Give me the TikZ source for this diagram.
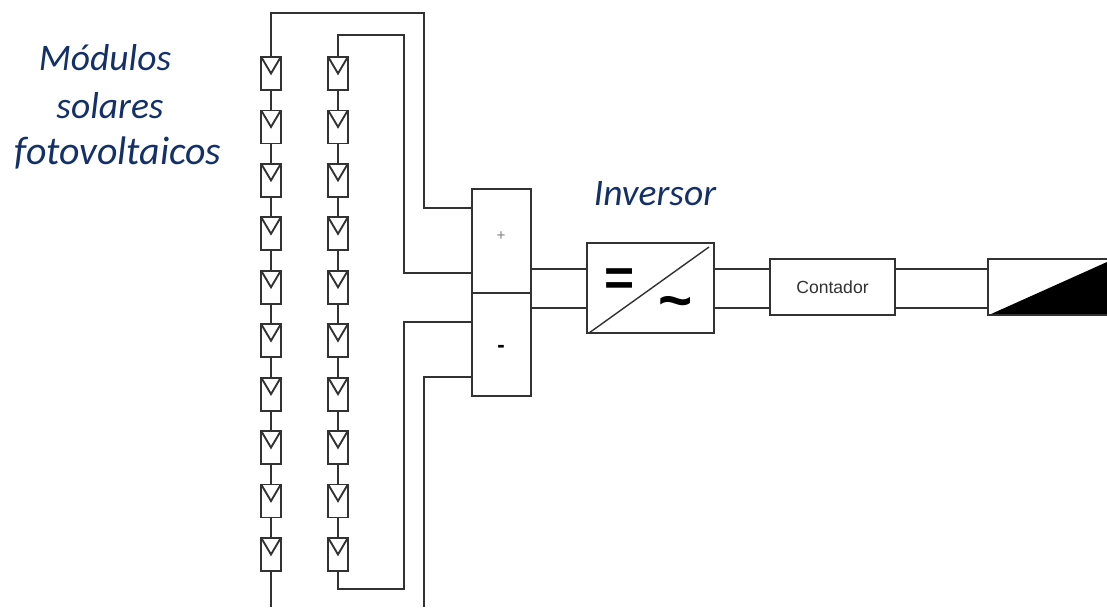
\documentclass[tikz,border=0pt]{standalone}
\usepackage{fontspec}
\setmainfont{Carlito}
\newfontfamily\arialfont{Liberation Sans}
\usepackage{xcolor}
\usetikzlibrary{positioning}
\definecolor{titleblue}{RGB}{20,48,104}
\definecolor{wiregray}{RGB}{50,50,50}
\tikzset{
	wire/.style={wiregray, line width=1.6pt},
	module/.style={draw=wiregray, fill=white, line width=1.6pt, minimum width=0.585cm, minimum height=0.99cm, inner sep=0pt, outer sep=0pt},
	box/.style={draw=wiregray, fill=white, line width=1.5pt, inner sep=0pt, outer sep=0pt},
	title/.style={titleblue, font=\fontsize{32}{36}\selectfont\itshape, inner sep=0pt, anchor=base}
}

\begin{document}
\begin{tikzpicture}[x=0.03cm, y=-0.03cm]
	\useasboundingbox (0, 0) rectangle (1107, 607);
	% strings of modules
	\foreach \i in {1,...,10} {
		\node[module] (a\i) at (271, {73.5+(\i-1)*53.44}) {};
		\node[module] (b\i) at (338, {73.5+(\i-1)*53.44}) {};
		\draw[wire] (a\i.north west) -- (a\i.center) -- (a\i.north east);
		\draw[wire] (b\i.north west) -- (b\i.center) -- (b\i.north east);
	}
	\foreach \i [evaluate=\i as \j using int(\i+1)] in {1,...,9} {
		\draw[wire] (a\i.south) -- (a\j.north);
		\draw[wire] (b\i.south) -- (b\j.north);
	}
	% junction box and the rest of the chain
	\node[box, minimum width=1.77cm, minimum height=3.12cm] (plus) at (501.5, 241) {};
	\node[box, minimum width=1.77cm, minimum height=3.09cm] (minus) at (501.5, 344.5) {};
	\node[box, minimum width=3.81cm, minimum height=2.7cm] (inverter) at (650.5, 288) {};
	\node[box, minimum width=3.75cm, minimum height=1.68cm, font=\arialfont\fontsize{15}{17}\selectfont, text=wiregray] (counter) at (832.5, 287) {Contador};
	\node[inner sep=0pt, font=\arialfont\fontsize{13}{13}\selectfont, text=gray] (plussign) at (501, 236) {+};
	\node[inner sep=0pt, font=\arialfont\bfseries\fontsize{19}{19}\selectfont] (minussign) at (501, 349) {-};
	\node[inner sep=0pt, font=\arialfont\bfseries\fontsize{44}{44}\selectfont] (equalsign) at (620, 282) {=};
	\node[inner sep=0pt, font=\arialfont\bfseries\fontsize{50}{50}\selectfont] (tildesign) at (676, 308) {\char"7E};
	\draw[wire, line width=1.2pt] (inverter.south west) ++(2, 0) -- ([shift={(-5, 4)}]inverter.north east);
	% grid end, cut by the edge of the picture
	\coordinate (gridtop) at (1107, 259);
	\coordinate (gridbottom) at (1107, 315);
	\coordinate (gridtopleft) at (988, 259);
	\coordinate (gridbottomleft) at (988, 315);
	\fill[black] (990, 314.5) -- (1107, 262) -- (gridbottom) -- cycle;
	\draw[wire] (gridtop) -- (gridtopleft) -- (gridbottomleft) -- (gridbottom);
	% wiring
	\coordinate (aend) at (271, 607);
	\coordinate (bend) at (424, 607);
	\draw[wire] (a1.north) |- (424, 13) |- (plus.west |- 0, 208);
	\draw[wire] (b1.north) |- (404, 35) |- (plus.west |- 0, 273);
	\draw[wire] (b10.south) |- (404, 589) |- (minus.west |- 0, 322);
	\draw[wire] (bend) |- (minus.west |- 0, 377);
	\draw[wire] (a10.south) -- (aend);
	\draw[wire] (plus.east |- 0, 269) -- (inverter.west |- 0, 269);
	\draw[wire] (plus.east |- 0, 308) -- (inverter.west |- 0, 308);
	\draw[wire] (inverter.east |- 0, 269) -- (counter.west |- 0, 269);
	\draw[wire] (inverter.east |- 0, 308) -- (counter.west |- 0, 308);
	\draw[wire] (counter.east |- 0, 269) -- (gridtopleft |- 0, 269);
	\draw[wire] (counter.east |- 0, 308) -- (gridtopleft |- 0, 308);
	% labels
	\node[title] (modules) at (105, 70) {Módulos};
	\node[title] (solar) at (110, 118) {solares};
	\node[title, font=\fontsize{34}{38}\selectfont\itshape] (pv) at (118, 164) {fotovoltaicos};
	\node[title] (invlabel) at (655, 205) {Inversor};
\end{tikzpicture}
\end{document}
